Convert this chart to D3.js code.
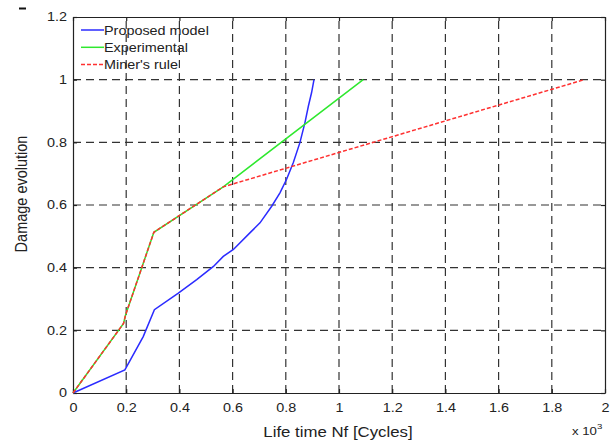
<!DOCTYPE html>
<html><head><meta charset="utf-8">
<script src="https://cdn.jsdelivr.net/npm/d3@7"></script>
<style>body{margin:0;background:#fff}svg{display:block}text{font-family:"Liberation Sans",Arial,sans-serif;fill:#222}</style>
</head><body>
<svg id="c" width="611" height="443"></svg>
<script>
const xTicks = [0,0.2,0.4,0.6,0.8,1,1.2,1.4,1.6,1.8,2];
const yTicks = [0,0.2,0.4,0.6,0.8,1,1.2];
const seriesNames = ["Proposed model","Experimental","Miner's rule"];
const seriesColors = ["#2b2bff","#2ee82e","#ff3030"];
const proposedX = [0,0.195,0.264,0.306,0.396,0.465,0.528,0.565,0.603,0.665,0.703,0.747,0.778,0.803,0.828,0.853,0.872,0.885,0.897,0.906];
const proposedY = [0,0.074,0.18,0.266,0.319,0.362,0.404,0.436,0.458,0.511,0.543,0.596,0.639,0.682,0.735,0.799,0.863,0.916,0.959,1.0];
const experimentalX = [0,0.19,0.198,0.304,0.565,1.091];
const experimentalY = [0,0.222,0.25,0.513,0.658,1.0];
const minerX = [0,0.19,0.198,0.304,0.565,1.922];
const minerY = [0,0.222,0.25,0.513,0.658,1.0];

const SX = 1.2; // horizontal stretch of the original figure's text
const svg = d3.select("#c");
const L=73,R=605,T=17,B=393;
const x = d3.scaleLinear().domain([0,2]).range([L,R]);
const y = d3.scaleLinear().domain([0,1.2]).range([B,T]);

// small mark top-left
svg.append("line").attr("x1",19).attr("x2",26).attr("y1",8.5).attr("y2",8.5).attr("stroke","#111").attr("stroke-width",2);

// grid
const g = svg.append("g");
g.selectAll(".gx").data(xTicks.slice(1,-1)).join("line")
 .attr("x1",d=>x(d)).attr("x2",d=>x(d)).attr("y1",B).attr("y2",T)
 .attr("stroke","#333").attr("stroke-width",1.2).attr("stroke-dasharray","8,5");
g.selectAll(".gy").data(yTicks.slice(1,-1)).join("line")
 .attr("y1",d=>y(d)).attr("y2",d=>y(d)).attr("x1",L).attr("x2",R)
 .attr("stroke","#333").attr("stroke-width",1.2).attr("stroke-dasharray","8,5");

// axes
const xa = svg.append("g").attr("transform",`translate(0,${B})`)
 .call(d3.axisBottom(x).tickValues(xTicks).tickFormat(d3.format("~g")).tickSizeInner(-4).tickSizeOuter(0).tickPadding(8));
const xa2 = svg.append("g").attr("transform",`translate(0,${T})`)
 .call(d3.axisTop(x).tickValues(xTicks).tickFormat("").tickSizeInner(-4).tickSizeOuter(0));
const ya = svg.append("g").attr("transform",`translate(${L},0)`)
 .call(d3.axisLeft(y).tickValues(yTicks).tickFormat(d3.format("~g")).tickSizeInner(-4).tickSizeOuter(0).tickPadding(6));
const ya2 = svg.append("g").attr("transform",`translate(${R},0)`)
 .call(d3.axisRight(y).tickValues(yTicks).tickFormat("").tickSizeInner(-4).tickSizeOuter(0));
[xa,xa2,ya,ya2].forEach(a=>{a.selectAll("path,line").attr("stroke","#222").attr("stroke-width",1.2);a.selectAll("text").style("font-size","12px").attr("fill","#222");});
xa.selectAll("text").attr("dy","0.9em").attr("transform",`scale(${SX},1)`);
ya.selectAll("text").attr("x",-6/SX).attr("transform",`scale(${SX},1)`);

// lines
const line = d3.line().x(d=>x(d[0])).y(d=>y(d[1]));
const data = [
 {pts: proposedX.map((v,i)=>[v,proposedY[i]]), c: seriesColors[0], dash:null},
 {pts: experimentalX.map((v,i)=>[v,experimentalY[i]]), c: seriesColors[1], dash:null},
 {pts: minerX.map((v,i)=>[v,minerY[i]]), c: seriesColors[2], dash:"4,2"}
];
data.forEach(s=>{
 svg.append("path").attr("d",line(s.pts)).attr("fill","none").attr("stroke",s.c)
  .attr("stroke-width",1.5).attr("stroke-dasharray",s.dash);
});

// legend
seriesNames.forEach((n,i)=>{
 const yy = 30+i*17.3;
 svg.append("line").attr("x1",81).attr("x2",104).attr("y1",yy).attr("y2",yy)
  .attr("stroke",seriesColors[i]).attr("stroke-width",1.5).attr("stroke-dasharray",i===2?"4,2":null);
 svg.append("text").attr("transform",`translate(104,${yy+4.5}) scale(${SX},1)`).style("font-size","12px").text(n);
});

// labels
svg.append("text").attr("transform",`translate(338,437) scale(${SX},1)`).attr("text-anchor","middle").style("font-size","14px").text("Life time Nf [Cycles]");
svg.append("text").attr("transform","translate(27,194) rotate(-90) scale(1,1.15)").attr("text-anchor","middle").style("font-size","14.5px").text("Damage evolution");
const ex = svg.append("text").attr("transform",`translate(572,435) scale(${SX},1)`).style("font-size","11px");
ex.append("tspan").text("x 10");
ex.append("tspan").attr("dy",-6).style("font-size","8px").text("3");
</script>
</body></html>
